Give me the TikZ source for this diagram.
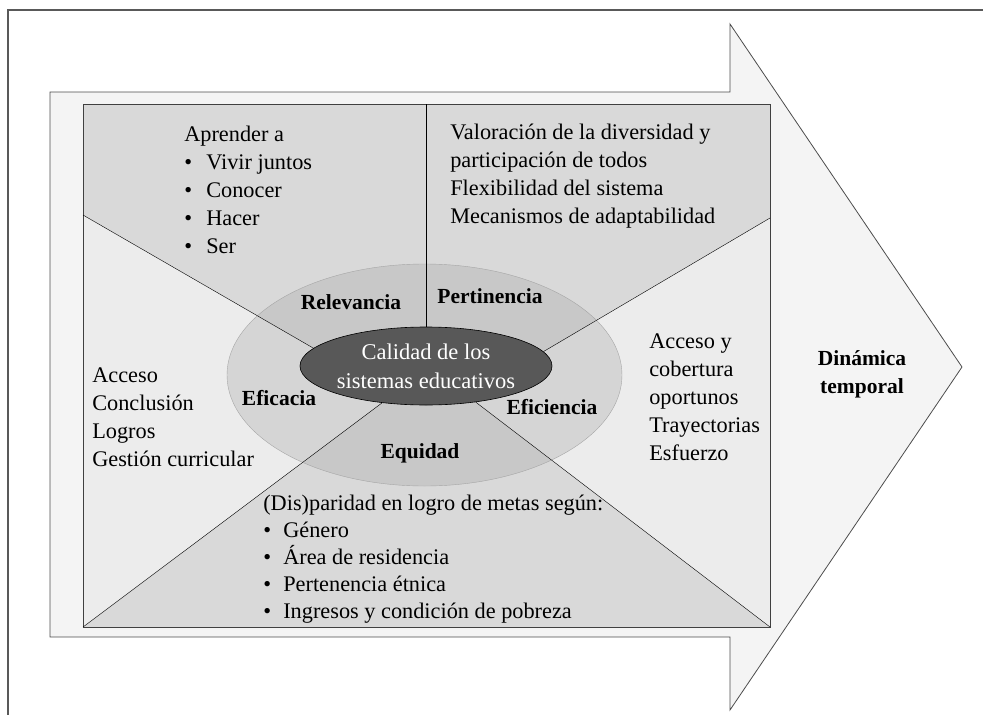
\documentclass[tikz,border=0pt]{standalone}
\usepackage{fontspec}
\setmainfont{Liberation Serif}
\usepackage{xcolor}
\usetikzlibrary{shapes.geometric}

\definecolor{arrowgray}{HTML}{F4F4F4}
\definecolor{sidegray}{HTML}{ECECEC}
\definecolor{topgray}{HTML}{D9D9D9}
\definecolor{ringside}{HTML}{D5D5D5}
\definecolor{ringtop}{HTML}{C8C8C8}
\definecolor{coregray}{HTML}{585858}

\newcommand{\bul}[1]{\makebox[22pt][l]{\textbullet}#1}

\begin{document}
\begin{tikzpicture}[x=1pt, y=-1pt, semithick,
    txt/.style={anchor=base west, inner sep=0pt, font=\fontsize{22.3}{28}\selectfont},
    lbl/.style={anchor=base, inner sep=0pt, font=\fontsize{21.5}{24}\selectfont\bfseries},
    coreshape/.style={ellipse, inner sep=0pt, minimum width=252pt, minimum height=78pt}]
    \useasboundingbox (0,0) rectangle (983,715);
    % frame and arrow
    \draw[line width=1.4pt, black!65] (8,715) |- (983,10);
    \draw[fill=arrowgray, draw=black!70, line width=0.8pt] (50,92) -- (730,92) -- (730,24)
        -- (962,367) -- (730,710) -- (730,637) -- (50,637) -- cycle;
    % box corners
    \coordinate (nw) at (83,104);
    \coordinate (ne) at (770,104);
    \coordinate (se) at (770,627);
    \coordinate (sw) at (83,627);
    \coordinate (wl) at (83,215);
    \coordinate (er) at (770,218);
    \coordinate (ring) at (424.5,375);
    \node[coreshape] (core) at (426,366) {};
    % regions
    \fill[sidegray] (nw) rectangle (se);
    \fill[topgray] (wl) -- (nw) -- (ne) -- (er) -- (core.7.8) -- (core.center) -- (core.171.7) -- cycle;
    \fill[topgray] (se) -- (sw) -- (core.220.7) -- (core.center) -- (core.324.6) -- cycle;
    \fill[ringside] (ring) ellipse [x radius=197.5, y radius=111];
    \begin{scope}
        \clip (ring) ellipse [x radius=197.5, y radius=111];
        \fill[ringtop] (wl) -- (nw) -- (ne) -- (er) -- (core.7.8) -- (core.center) -- (core.171.7) -- cycle;
        \fill[ringtop] (se) -- (sw) -- (core.220.7) -- (core.center) -- (core.324.6) -- cycle;
    \end{scope}
    \draw[black!35, thin] (ring) ellipse [x radius=197.5, y radius=111];
    \draw[black!75, line width=0.8pt] (nw) rectangle (se);
    % spokes
    \draw[thin] (wl) to (core.171.7);
    \draw[thin] (er) to (core.7.8);
    \draw[thin] (sw) to (core.220.7);
    \draw[thin] (se) to (core.324.6);
    \draw[thin] (core.north |- nw) to (core.north);
    \node[coreshape, draw=black, fill=coregray, text=white, align=center,
        font=\fontsize{22.5}{29}\selectfont] (calidad) at (core.center)
        {Calidad de los\\sistemas educativos};
    % labels
    \node[lbl] (relev) at (351,309) {Relevancia};
    \node[lbl] (pert) at (490,303) {Pertinencia};
    \node[lbl] (efic) at (279,405) {Eficacia};
    \node[lbl] (efici) at (552,414) {Eficiencia};
    \node[lbl] (equi) at (420,458) {Equidad};
    \node[lbl] (din) at (862,365) {Dinámica};
    \node[lbl] (temp) at (862,393) {temporal};
    % texts
    \foreach \t [count=\i from 0] in {Aprender a, \bul{Vivir juntos}, \bul{Conocer}, \bul{Hacer}, \bul{Ser}}
        \node[txt] (apr\i) at (184,141+28*\i) {\t};
    \foreach \t [count=\i from 0] in {Valoración de la diversidad y, participación de todos,
            Flexibilidad del sistema, Mecanismos de adaptabilidad}
        \node[txt] (val\i) at (450,139+28*\i) {\t};
    \foreach \t [count=\i from 0] in {Acceso, Conclusión, Logros, Gestión curricular}
        \node[txt] (acc\i) at (92,382+28*\i) {\t};
    \foreach \t [count=\i from 0] in {Acceso y, cobertura, oportunos, Trayectorias, Esfuerzo}
        \node[txt] (cob\i) at (649,348+28*\i) {\t};
    \renewcommand{\bul}[1]{\makebox[20pt][l]{\textbullet}#1}
    \foreach \t [count=\i from 0] in {(Dis)paridad en logro de metas según:, \bul{Género},
            \bul{Área de residencia}, \bul{Pertenencia étnica}, \bul{Ingresos y condición de pobreza}}
        \node[txt] (dis\i) at (263,510+27*\i) {\t};
\end{tikzpicture}
\end{document}
